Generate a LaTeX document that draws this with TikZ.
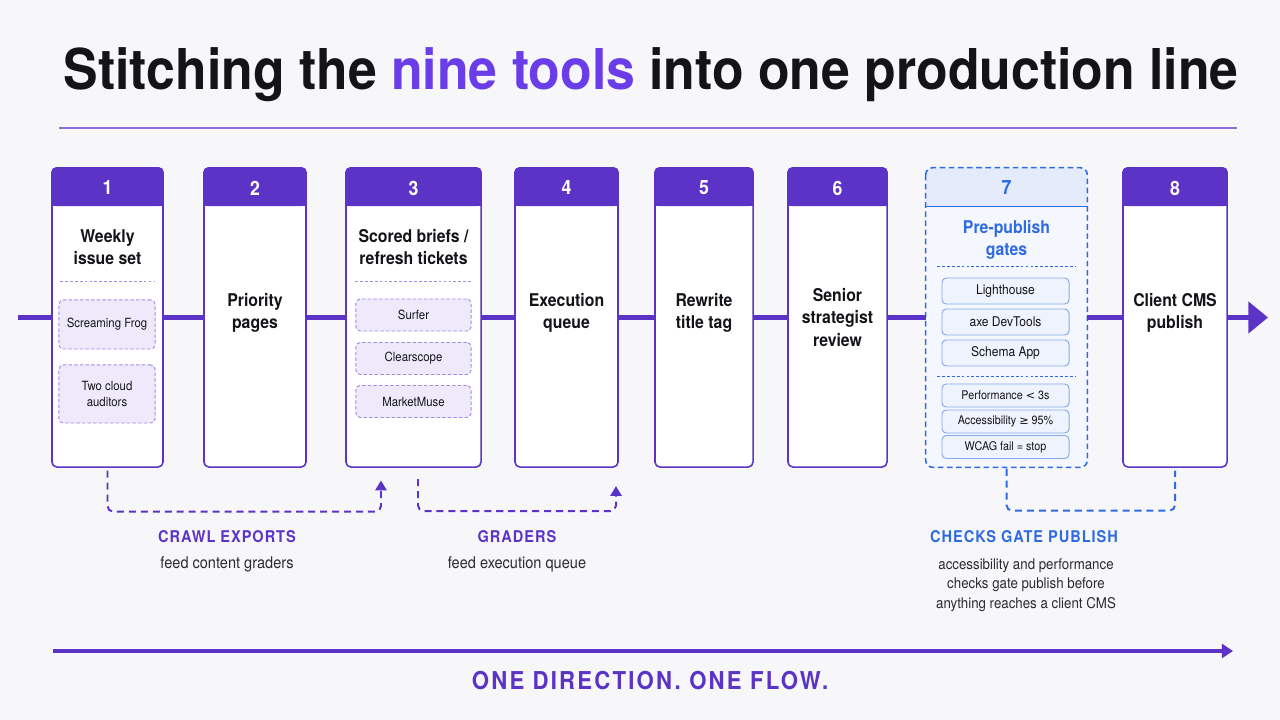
\documentclass[tikz,border=0pt]{standalone}
\usepackage{fontspec}
\setmainfont{TeX Gyre Heros}[FakeStretch=0.9]
\newfontfamily\headfont{TeX Gyre Heros}[FakeStretch=0.92]
\newfontfamily\capsfont{TeX Gyre Heros}[FakeStretch=0.9,LetterSpace=6]
\newfontfamily\mottofont{TeX Gyre Heros}[FakeStretch=0.9,LetterSpace=9]
\newfontfamily\symfont{DejaVu Sans}
\usepackage{xcolor}
\usepackage{tikz}
\usetikzlibrary{arrows.meta}

\definecolor{bgcol}{HTML}{F7F7FA}
\definecolor{violet}{HTML}{5B33C6}
\definecolor{brightviolet}{HTML}{6A3DE8}
\definecolor{rulecol}{HTML}{8B6FD6}
\definecolor{lilac}{HTML}{EFEAFB}
\definecolor{lilacline}{HTML}{A58BE6}
\definecolor{gateblue}{HTML}{2F6BE0}
\definecolor{gatehead}{HTML}{E4ECFB}
\definecolor{gatebody}{HTML}{F4F7FE}
\definecolor{gatetool}{HTML}{EEF3FD}
\definecolor{gateline}{HTML}{86AAEE}
\definecolor{ink}{HTML}{141418}
\definecolor{softink}{HTML}{2A2A30}

\begin{document}
\begin{tikzpicture}[x=0.025cm, y=-0.025cm,
  card/.style={draw=violet, line width=1.1pt, fill=white, rounded corners=3.5pt,
    minimum height=7.475cm, inner sep=0pt},
  gatecard/.style={fill=gatebody, rounded corners=5pt, minimum height=7.475cm, inner sep=0pt},
  gatedash/.style={draw=gateblue, line width=1.1pt, dash pattern=on 4pt off 2.5pt, rounded corners=5pt},
  num/.style={text=white, font=\bfseries\fontsize{14}{14}\selectfont},
  stage/.style={text=ink, font=\bfseries\fontsize{12.5}{16}\selectfont, align=center},
  tool/.style={draw=lilacline, dash pattern=on 2.5pt off 1.5pt, line width=0.7pt, fill=lilac,
    rounded corners=3pt, font=\fontsize{9}{11.5}\selectfont, align=center, text=ink, inner sep=0pt},
  gate/.style={draw=gateline, line width=0.7pt, fill=gatetool, rounded corners=3pt,
    font=\fontsize{9.5}{11}\selectfont, text=ink, inner sep=0pt, minimum width=3.175cm},
  sep/.style={draw=lilacline, dash pattern=on 2pt off 1.5pt, line width=0.6pt},
  gatesep/.style={draw=gateblue, dash pattern=on 2pt off 1.5pt, line width=0.6pt},
  flow/.style={draw=violet, line width=3.5pt},
  feed/.style={draw=violet, line width=1.4pt, dash pattern=on 5pt off 3.5pt, rounded corners=4pt},
  feedgate/.style={feed, draw=gateblue},
  tag/.style={text=violet, font=\capsfont\bfseries\fontsize{11.5}{12}\selectfont},
  note/.style={text=softink, font=\fontsize{11.5}{14}\selectfont, align=center}
]
\useasboundingbox (0,0) rectangle (1280,720);
\fill[bgcol] (0,0) rectangle (1280,720);

% title
\node[text=ink, font=\headfont\bfseries\fontsize{40}{40}\selectfont] (title) at (651,75)
  {Stitching the \textcolor{brightviolet}{nine tools} into one production line};
\coordinate (ruleL) at (59,128);
\coordinate (ruleR) at (1237,128);
\draw[rulecol, line width=1.5pt] (ruleL) -- (ruleR);

% cards
\node[card, minimum width=2.775cm] (c1) at (107.5,317.5) {};
\node[card, minimum width=2.55cm] (c2) at (255,317.5) {};
\node[card, minimum width=3.375cm] (c3) at (413.5,317.5) {};
\node[card, minimum width=2.575cm] (c4) at (566.5,317.5) {};
\node[card, minimum width=2.45cm] (c5) at (704,317.5) {};
\node[card, minimum width=2.475cm] (c6) at (837.5,317.5) {};
\node[gatecard, minimum width=4.025cm] (c7) at (1006.5,317.5) {};
\node[card, minimum width=2.6cm] (c8) at (1175,317.5) {};

% headers
\fill[violet, rounded corners=3.5pt] (c1.north west) rectangle ([yshift=-0.975cm]c1.north east);
\fill[violet] ([yshift=-0.5cm]c1.north west) rectangle ([yshift=-0.975cm]c1.north east);
\fill[violet, rounded corners=3.5pt] (c2.north west) rectangle ([yshift=-0.975cm]c2.north east);
\fill[violet] ([yshift=-0.5cm]c2.north west) rectangle ([yshift=-0.975cm]c2.north east);
\fill[violet, rounded corners=3.5pt] (c3.north west) rectangle ([yshift=-0.975cm]c3.north east);
\fill[violet] ([yshift=-0.5cm]c3.north west) rectangle ([yshift=-0.975cm]c3.north east);
\fill[violet, rounded corners=3.5pt] (c4.north west) rectangle ([yshift=-0.975cm]c4.north east);
\fill[violet] ([yshift=-0.5cm]c4.north west) rectangle ([yshift=-0.975cm]c4.north east);
\fill[violet, rounded corners=3.5pt] (c5.north west) rectangle ([yshift=-0.975cm]c5.north east);
\fill[violet] ([yshift=-0.5cm]c5.north west) rectangle ([yshift=-0.975cm]c5.north east);
\fill[violet, rounded corners=3.5pt] (c6.north west) rectangle ([yshift=-0.975cm]c6.north east);
\fill[violet] ([yshift=-0.5cm]c6.north west) rectangle ([yshift=-0.975cm]c6.north east);
\fill[gatehead, rounded corners=5pt] (c7.north west) rectangle ([yshift=-0.975cm]c7.north east);
\fill[gatehead] ([yshift=-0.5cm]c7.north west) rectangle ([yshift=-0.975cm]c7.north east);
\draw[gateblue, line width=1.1pt] ([yshift=-0.975cm]c7.north west) -- ([yshift=-0.975cm]c7.north east);
\draw[gatedash] (c7.north west) rectangle (c7.south east);
\fill[violet, rounded corners=3.5pt] (c8.north west) rectangle ([yshift=-0.975cm]c8.north east);
\fill[violet] ([yshift=-0.5cm]c8.north west) rectangle ([yshift=-0.975cm]c8.north east);

\node[num] (n1) at (107.5,188) {1};
\node[num] (n2) at (255,188) {2};
\node[num] (n3) at (413.5,188) {3};
\node[num] (n4) at (566.5,188) {4};
\node[num] (n5) at (704,188) {5};
\node[num] (n6) at (837.5,188) {6};
\node[num, text=gateblue] (n7) at (1006.5,188) {7};
\node[num] (n8) at (1175,188) {8};

% stage names
\node[stage] (t1) at (107.5,247) {Weekly\\issue set};
\node[stage] (t2) at (255,313) {Priority\\pages};
\node[stage] (t3) at (413.5,247) {Scored briefs /\\refresh tickets};
\node[stage] (t4) at (566.5,313) {Execution\\queue};
\node[stage] (t5) at (704,313) {Rewrite\\title tag};
\node[stage] (t6) at (837.5,317.5) {Senior\\strategist\\review};
\node[stage, text=gateblue] (t7) at (1006.5,240) {Pre-publish\\gates};
\node[stage] (t8) at (1175,313) {Client CMS\\publish};

% tools inside stages
\draw[sep] (60,281) -- (155,281);
\node[tool, minimum width=2.4cm, minimum height=1.225cm] (frog) at (107,324.5) {Screaming Frog};
\node[tool, minimum width=2.4cm, minimum height=1.45cm] (auditors) at (107,394) {Two cloud\\auditors};
\draw[sep] (355,281) -- (471,281);
\node[tool, minimum width=2.875cm, minimum height=0.8cm] (surfer) at (413.5,315) {Surfer};
\node[tool, minimum width=2.875cm, minimum height=0.8cm] (clear) at (413.5,358.5) {Clearscope};
\node[tool, minimum width=2.875cm, minimum height=0.8cm] (muse) at (413.5,401.5) {MarketMuse};
\draw[gatesep] (937,266) -- (1075,266);
\node[gate, minimum height=0.65cm] (light) at (1005.5,291) {Lighthouse};
\node[gate, minimum height=0.65cm] (axe) at (1005.5,322) {axe DevTools};
\node[gate, minimum height=0.65cm] (schema) at (1005.5,353) {Schema App};
\draw[gatesep] (937,376) -- (1075,376);
\node[gate, minimum height=0.575cm, font=\fontsize{8.5}{10}\selectfont] (perf) at (1005.5,395.5) {Performance {\symfont\fontsize{8}{10}\selectfont <} 3s};
\node[gate, minimum height=0.575cm, font=\fontsize{8.5}{10}\selectfont] (access) at (1005.5,421.5) {Accessibility {\symfont\fontsize{8}{10}\selectfont ≥} 95\%};
\node[gate, minimum height=0.575cm, font=\fontsize{8.5}{10}\selectfont] (wcag) at (1005.5,447) {WCAG fail = stop};

% main line
\coordinate (lineStart) at (18,317.5);
\coordinate (lineEnd) at (1268,317.5);
\draw[flow] (lineStart) -- (c1.west);
\draw[flow] (c1.east) -- (c2.west);
\draw[flow] (c2.east) -- (c3.west);
\draw[flow] (c3.east) -- (c4.west);
\draw[flow] (c4.east) -- (c5.west);
\draw[flow] (c5.east) -- (c6.west);
\draw[flow] (c6.east) -- (c7.west);
\draw[flow] (c7.east) -- (c8.west);
\draw[flow, -{Triangle[length=14pt,width=22pt]}] (c8.east) -- (lineEnd);

% feeds under the line
\draw[feed, -{Triangle[length=7pt,width=8pt,sharp]}, shorten >=9pt]
  ([yshift=-2pt]c1.south) -- ++(0,41) -| ([xshift=-0.8125cm]c3.south);
\draw[feed, -{Triangle[length=7pt,width=8pt,sharp]}, shorten >=13pt]
  ([xshift=0.1125cm,yshift=-8pt]c3.south) -- ++(0,32) -| ([xshift=1.2375cm]c4.south);
\draw[feedgate] ([yshift=-1pt]c7.south) -- ++(0,42) -| ([yshift=-2pt]c8.south);

\node[tag] (crawl) at (227,537) {CRAWL EXPORTS};
\node[note] (crawlnote) at (227,564) {feed content graders};
\node[tag] (graders) at (517,537) {GRADERS};
\node[note] (gradersnote) at (517,564) {feed execution queue};
\node[tag, text=gateblue] (checks) at (1024,537) {CHECKS GATE PUBLISH};
\node[note, font=\fontsize{10.5}{14}\selectfont] (checksnote) at (1026,585)
  {accessibility and performance\\checks gate publish before\\anything reaches a client CMS};

% bottom
\coordinate (flowStart) at (53,651);
\coordinate (flowEnd) at (1233,651);
\draw[violet, line width=2.2pt, -{Triangle[length=8pt,width=10pt]}] (flowStart) -- (flowEnd);
\node[text=violet, font=\mottofont\bfseries\fontsize{17.5}{18}\selectfont] (motto) at (650,681)
  {ONE DIRECTION. ONE FLOW.};
\end{tikzpicture}
\end{document}
